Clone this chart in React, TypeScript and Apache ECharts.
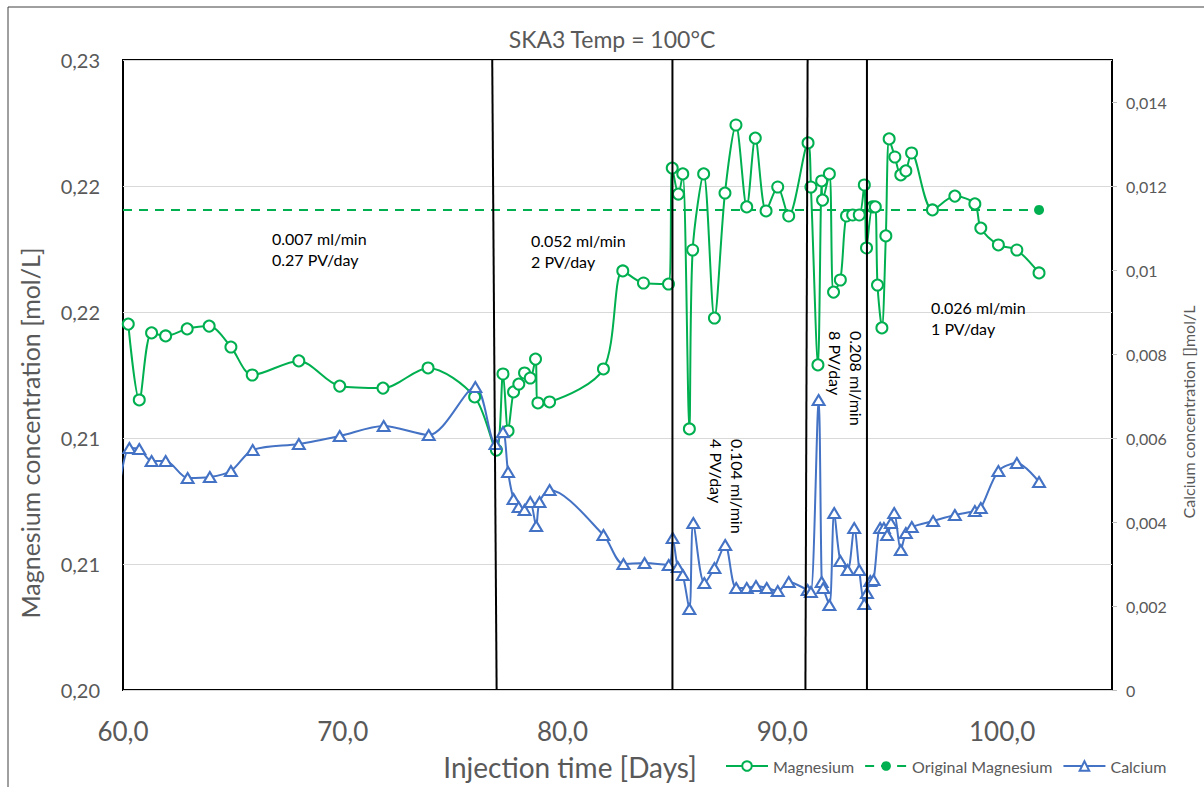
import React, { useEffect, useRef } from "react";
import * as echarts from "echarts";

const FONT = "Lato, 'Open Sans', sans-serif";
const GREEN = "#00B050";
const BLUE = "#4472C4";
const GREY = "#595959";

const titleText = "SKA3 Temp = 100°C";

const magnesiumDays = [60.24, 60.74, 61.3, 61.94, 62.92, 63.92, 64.91, 65.88, 68.0, 69.86, 71.83, 73.88, 76.0, 76.99, 77.29, 77.52, 77.77, 78.01, 78.27, 78.53, 78.77, 78.88, 79.41, 81.86, 82.74, 83.68, 84.82, 84.99, 85.27, 85.47, 85.77, 85.92, 86.42, 86.91, 87.39, 87.89, 88.38, 88.77, 89.26, 89.79, 90.29, 91.17, 91.3, 91.62, 91.79, 91.83, 92.14, 92.33, 92.64, 92.92, 93.2, 93.5, 93.73, 93.83, 94.1, 94.23, 94.33, 94.53, 94.71, 94.86, 95.12, 95.39, 95.62, 95.88, 96.83, 97.85, 98.76, 99.03, 99.83, 100.67, 101.68];
const magnesiumValues = [0.21452, 0.21151, 0.21417, 0.21405, 0.21433, 0.21444, 0.21361, 0.2125, 0.21306, 0.21206, 0.21198, 0.21278, 0.21163, 0.20952, 0.21254, 0.21028, 0.21183, 0.21214, 0.21258, 0.21238, 0.21313, 0.21139, 0.21143, 0.21274, 0.21663, 0.21615, 0.21611, 0.22071, 0.21968, 0.22048, 0.21036, 0.21746, 0.22048, 0.21476, 0.21972, 0.22242, 0.21917, 0.2219, 0.21901, 0.21996, 0.21881, 0.22171, 0.21996, 0.2129, 0.2202, 0.21944, 0.22048, 0.21579, 0.21627, 0.21881, 0.21885, 0.21885, 0.22004, 0.21754, 0.21917, 0.21917, 0.21607, 0.21437, 0.21802, 0.22187, 0.22115, 0.22044, 0.2206, 0.22131, 0.21905, 0.2196, 0.21929, 0.21833, 0.21766, 0.21746, 0.21655];

const calciumDays = [59.8, 60.29, 60.74, 61.3, 61.94, 62.94, 63.95, 64.91, 65.9, 68.0, 69.86, 71.86, 73.91, 76.03, 76.95, 77.29, 77.52, 77.77, 78.0, 78.27, 78.53, 78.8, 78.95, 79.41, 81.86, 82.77, 83.73, 84.83, 85.01, 85.24, 85.47, 85.77, 85.95, 86.45, 86.91, 87.4, 87.9, 88.38, 88.8, 89.29, 89.79, 90.29, 91.15, 91.3, 91.65, 91.79, 91.86, 92.14, 92.36, 92.64, 92.97, 93.27, 93.5, 93.73, 93.85, 94.0, 94.15, 94.45, 94.62, 94.77, 94.94, 95.09, 95.39, 95.62, 95.89, 96.86, 97.85, 98.76, 99.03, 99.83, 100.67, 101.68];
const calciumValues = [0.004714, 0.005762, 0.005738, 0.005452, 0.005452, 0.005048, 0.005071, 0.005214, 0.005714, 0.005857, 0.006048, 0.006286, 0.006071, 0.007214, 0.005857, 0.006143, 0.00519, 0.004548, 0.004357, 0.004286, 0.004476, 0.003905, 0.004476, 0.004762, 0.00369, 0.003, 0.003024, 0.002976, 0.003619, 0.002929, 0.002738, 0.001929, 0.003976, 0.002548, 0.002905, 0.003452, 0.002429, 0.002429, 0.002476, 0.002429, 0.002357, 0.002571, 0.002381, 0.002333, 0.006905, 0.002571, 0.002429, 0.002024, 0.004214, 0.003071, 0.002857, 0.003857, 0.002857, 0.002048, 0.00231, 0.002595, 0.002619, 0.003857, 0.003857, 0.00369, 0.003976, 0.004214, 0.003333, 0.003738, 0.003881, 0.004024, 0.004167, 0.004262, 0.004333, 0.005214, 0.005405, 0.004952];

const originalMagnesiumDays = [60, 101.68];
const originalMagnesiumValue = 0.21905;

// flow-rate change boundaries (top / bottom day positions)
const boundaryTopDays = [76.8, 85.0, 91.15, 93.85];
const boundaryBottomDays = [77.0, 85.0, 91.05, 93.85];

const xTickValues = [60, 70, 80, 90, 100];
const xTickLabels = ["60,0", "70,0", "80,0", "90,0", "100,0"];
const leftTickLabels = ["0,20", "0,21", "0,21", "0,22", "0,22", "0,23"];
const rightTickLabels = ["0", "0,002", "0,004", "0,006", "0,008", "0,01", "0,012", "0,014"];

const flowNotes = [
  { text: "0.007 ml/min\n0.27 PV/day", x: 272, y: 228, rotate: false },
  { text: "0.052 ml/min\n2 PV/day", x: 531, y: 230, rotate: false },
  { text: "0.104 ml/min\n4 PV/day", x: 748, y: 439, rotate: true },
  { text: "0.208 ml/min\n8 PV/day", x: 867, y: 331, rotate: true },
  { text: "0.026 ml/min\n1 PV/day", x: 931, y: 297, rotate: false },
];

export default function App() {
  const ref = useRef<HTMLDivElement>(null);
  useEffect(() => {
    if (!ref.current) return;
    const chart = echarts.init(ref.current, undefined, { renderer: "svg" });

    const boundarySeries = boundaryTopDays.map((d, i) => ({
      type: "line",
      name: "boundary" + i,
      xAxisIndex: 0,
      yAxisIndex: 0,
      data: [
        [d, 0.225],
        [boundaryBottomDays[i], 0.2],
      ],
      symbol: "none",
      lineStyle: { color: "#000", width: 2 },
      z: 5,
      silent: true,
    }));

    const option: any = {
      animation: false,
      backgroundColor: "#fff",
      title: {
        text: titleText,
        left: 607,
        top: 22,
        textAlign: "center",
        textStyle: { color: GREY, fontSize: 23, fontWeight: "normal", fontFamily: FONT },
      },
      grid: {
        left: 123,
        right: 91,
        top: 60,
        bottom: 97,
        show: true,
        borderColor: "#000",
        borderWidth: 2,
      },
      legend: {
        left: 720,
        top: 753,
        itemWidth: 42,
        itemHeight: 12,
        itemGap: 10,
        data: ["Magnesium", "Original Magnesium", "Calcium"],
        textStyle: { color: GREY, fontSize: 16, fontFamily: FONT },
      },
      xAxis: {
        type: "value",
        min: 60,
        max: 105,
        interval: 10,
        axisLine: { show: false },
        axisTick: { show: false },
        splitLine: { show: false },
        axisLabel: {
          color: GREY,
          fontSize: 26,
          fontFamily: FONT,
          margin: 28,
          showMaxLabel: false,
          formatter: (v: number) => {
            const i = xTickValues.indexOf(Math.round(v));
            return i >= 0 ? xTickLabels[i] : "";
          },
        },
      },
      yAxis: [
        {
          type: "value",
          min: 0.2,
          max: 0.225,
          interval: 0.005,
          name: "Magnesium concentration [mol/L]",
          nameLocation: "middle",
          nameRotate: 90,
          nameGap: 81,
          nameTextStyle: { color: GREY, fontSize: 25, fontFamily: FONT, padding: [0, 116, 0, 0] },
          axisLine: { show: false },
          axisTick: { show: false },
          splitLine: { show: true, lineStyle: { color: "#D9D9D9", width: 1 } },
          axisLabel: {
            color: GREY,
            fontSize: 20,
            fontFamily: FONT,
            margin: 23,
            formatter: (v: number) => {
              const i = Math.round((v - 0.2) / 0.005);
              return leftTickLabels[i] ?? "";
            },
          },
        },
        {
          type: "value",
          min: 0,
          max: 0.015,
          interval: 0.002,
          position: "right",
          name: "Calcium concentration []mol/L",
          nameLocation: "middle",
          nameRotate: 90,
          nameGap: 68,
          nameTextStyle: { color: GREY, fontSize: 16, fontFamily: FONT, padding: [0, 74, 0, 0] },
          axisLine: { show: false },
          axisTick: { show: true, inside: false, length: 5, lineStyle: { color: "#BFBFBF" } },
          splitLine: { show: false },
          axisLabel: {
            color: GREY,
            fontSize: 16,
            fontFamily: FONT,
            margin: 14,
            showMaxLabel: false,
            formatter: (v: number) => {
              const r = v / 0.002;
              const i = Math.round(r);
              if (Math.abs(r - i) > 1e-6) return "";
              return rightTickLabels[i] ?? "";
            },
          },
        },
      ],
      graphic: [
        {
          type: "rect",
          shape: { x: 8, y: 7, width: 1210, height: 800 },
          style: { fill: "none", stroke: "#404040", lineWidth: 1 },
          silent: true,
          z: -10,
        },
        {
          type: "text",
          x: 570,
          y: 767,
          style: {
            text: "Injection time [Days]",
            fill: GREY,
            fontSize: 28,
            fontFamily: FONT,
            textAlign: "center",
            textVerticalAlign: "middle",
          },
        },
        ...flowNotes.map((n) => ({
          type: "text",
          x: n.x,
          y: n.y,
          rotation: n.rotate ? -Math.PI / 2 : 0,
          z: 20,
          style: {
            text: n.text,
            fill: "#000",
            fontSize: 16,
            lineHeight: 21,
            fontFamily: FONT,
            textAlign: "left",
            textVerticalAlign: "top",
          },
        })),
      ],
      series: [
        {
          type: "line",
          name: "Magnesium",
          yAxisIndex: 0,
          data: magnesiumDays.map((d, i) => [d, magnesiumValues[i]]),
          smooth: 0.3,
          symbol: "emptyCircle",
          symbolSize: 11,
          itemStyle: { color: GREEN, borderWidth: 2 },
          lineStyle: { color: GREEN, width: 2 },
          z: 3,
        },
        {
          type: "line",
          name: "Original Magnesium",
          yAxisIndex: 0,
          data: originalMagnesiumDays.map((d, i) =>
            i === 0 ? { value: [d, originalMagnesiumValue], symbol: "none" } : [d, originalMagnesiumValue]
          ),
          symbol: "circle",
          symbolSize: 10,
          itemStyle: { color: GREEN },
          lineStyle: { color: GREEN, width: 2, type: [9, 7] },
          z: 2,
        },
        {
          type: "line",
          name: "Calcium",
          yAxisIndex: 1,
          data: calciumDays.map((d, i) =>
            i === 0 ? { value: [d, calciumValues[i]], symbol: "none" } : [d, calciumValues[i]]
          ),
          smooth: 0.3,
          symbol: "emptyTriangle",
          symbolSize: [12, 10],
          itemStyle: { color: BLUE, borderWidth: 2 },
          lineStyle: { color: BLUE, width: 2 },
          z: 3,
        },
        ...boundarySeries,
      ],
    };

    chart.setOption(option);
    return () => chart.dispose();
  }, []);

  return (
    <div
      ref={ref}
      style={{ position: "absolute", left: 0, top: 0, width: 1204, height: 787 }}
    />
  );
}
